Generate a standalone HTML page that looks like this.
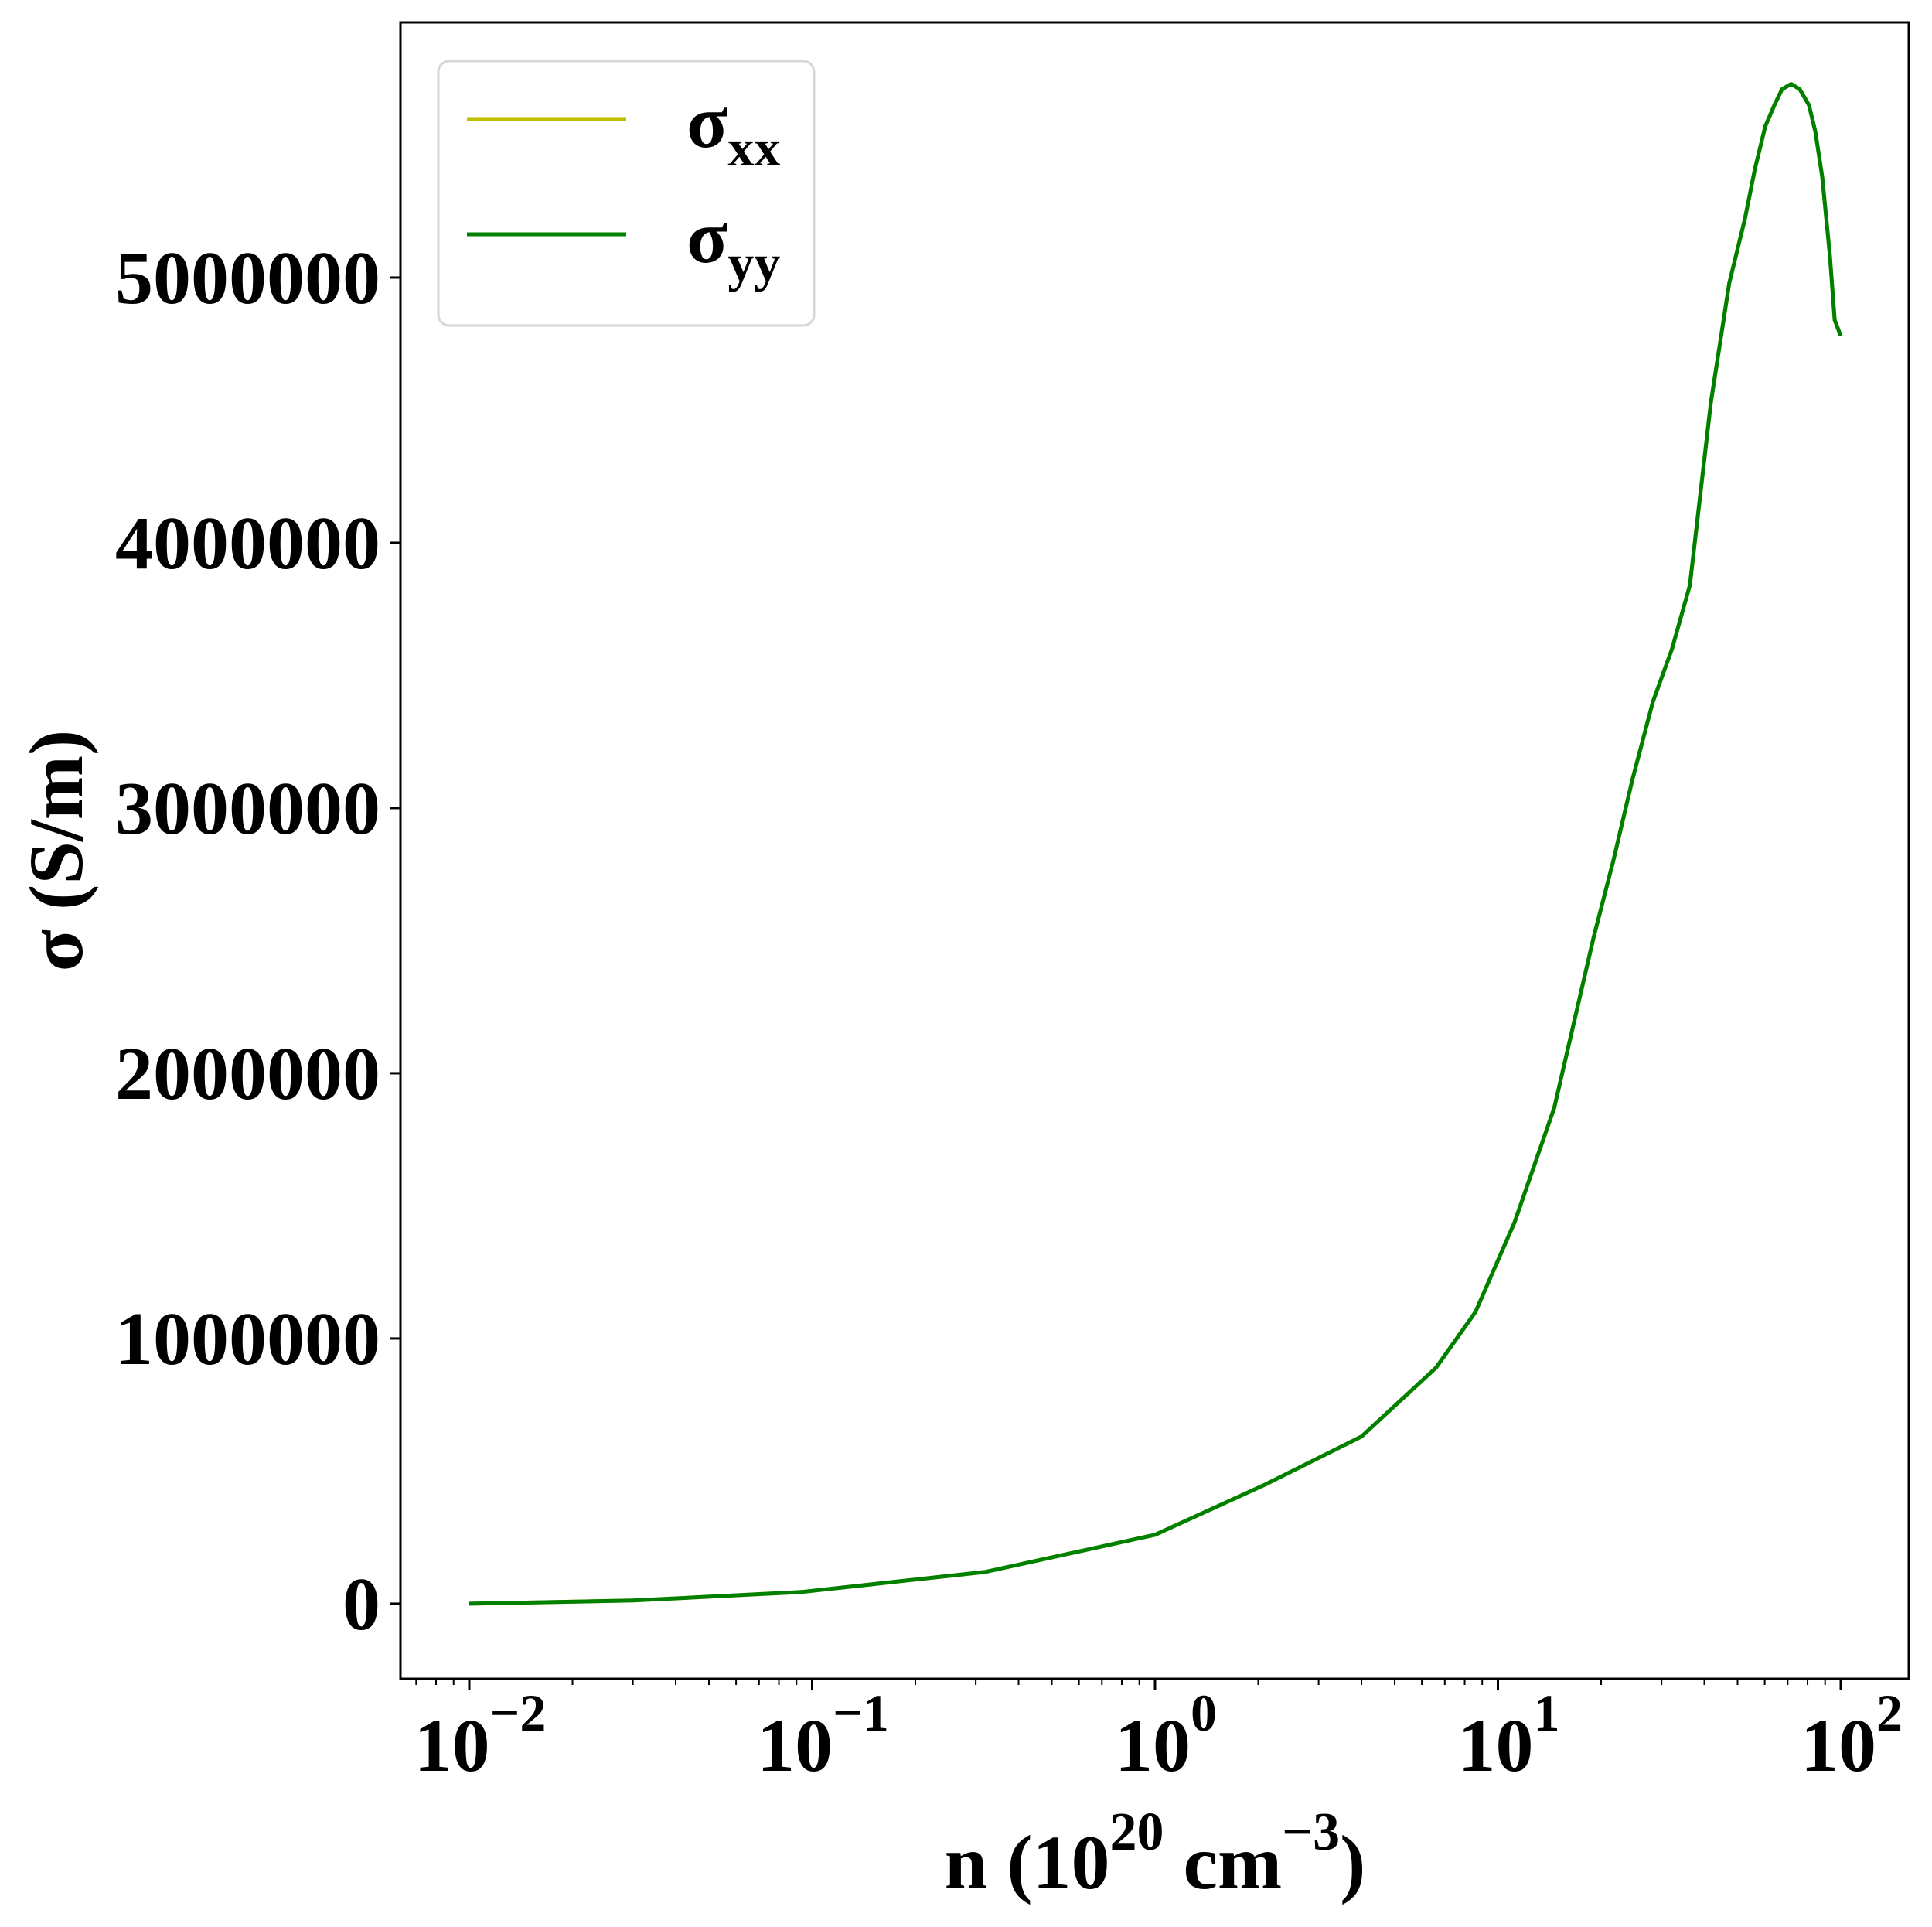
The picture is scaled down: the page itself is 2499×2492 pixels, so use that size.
<!DOCTYPE html>
<html><head><meta charset="utf-8"><style>
html,body{margin:0;padding:0;background:#fff}
svg{display:block}
text{font-family:"Liberation Serif","DejaVu Serif",serif;font-weight:bold;fill:#000}
</style></head><body>
<svg id="chart" width="2499" height="2492" viewBox="0 0 2499 2492" xmlns="http://www.w3.org/2000/svg">
<g id="plot"></g>
</svg>
<script>
const nValues = [0.01,0.03,0.093,0.32,1.0,2.1,4,6.6,8.6,11.2,14.6,19,21.7,24.7,28.3,32.2,36.3,41.8,47.3,52.5,56.2,60.2,64,67.4,71.7,75.9,80.8,84.3,88.3,93,96,100];
const sigmaYY = [0.0,0.012,0.044,0.12,0.26,0.45,0.63,0.89,1.10,1.44,1.87,2.51,2.80,3.11,3.40,3.60,3.84,4.53,4.98,5.22,5.41,5.57,5.65,5.71,5.73,5.71,5.65,5.55,5.38,5.08,4.84,4.78];
const sigmaXX = sigmaYY.slice();
const yTickValues = [0,1,2,3,4,5];
const yTickLabels = ["0","1000000","2000000","3000000","4000000","5000000"];
const xTickExps = [-2,-1,0,1,2];
const xTickSups = ["\u22122","\u22121","0","1","2"];

const L=518,R=2469,T=29,B=2171;
const xMinLog=-2.2007, xMaxLog=2.1984, yMin=-0.283, yMax=5.962;
const xs=n=>L+(Math.log10(n)-xMinLog)/(xMaxLog-xMinLog)*(R-L);
const ys=v=>B-(v-yMin)/(yMax-yMin)*(B-T);
const NS="http://www.w3.org/2000/svg";
const g=document.getElementById('plot');
function mk(tag,attrs,parent){const e=document.createElementNS(NS,tag);for(const k in attrs)e.setAttribute(k,attrs[k]);(parent||g).appendChild(e);return e;}

// series
function pathFor(vals){return vals.map((v,i)=>(i?'L':'M')+xs(nValues[i]).toFixed(1)+','+ys(v).toFixed(1)).join(' ');}
const pxx=mk('path',{d:pathFor(sigmaXX),fill:'none',stroke:'#bfbf00','stroke-width':5,'stroke-linejoin':'round'});


const pyy=mk('path',{d:pathFor(sigmaYY),fill:'none',stroke:'#008000','stroke-width':5,'stroke-linejoin':'round'});



// frame
const fr=mk('rect',{x:L,y:T,width:R-L,height:B-T,fill:'none',stroke:'#000','stroke-width':3});



// y ticks
yTickValues.forEach((v,i)=>{
  const y=ys(v);
  const t=mk('line',{x1:L-14,x2:L,y1:y,y2:y,stroke:'#000','stroke-width':3});
  
  
  const tx=mk('text',{x:L-26,y:y+33,'text-anchor':'end','font-size':98});
  tx.textContent=yTickLabels[i];
  
  
});

// x ticks
for(let e=-3;e<=2;e++){
  for(let m=1;m<10;m++){
    const n=m*Math.pow(10,e);
    const lg=Math.log10(n);
    if(lg<xMinLog||lg>xMaxLog)continue;
    const x=xs(n);
    const major=m===1;
    const t=mk('line',{x1:x,x2:x,y1:B,y2:B+(major?14:8),stroke:'#000','stroke-width':major?3:2});
    
    
  }
}
xTickExps.forEach((e,i)=>{
  const x=xs(Math.pow(10,e));
  const tx=mk('text',{x:x+14,y:2290,'text-anchor':'middle','font-size':98});
  tx.textContent='10';
  const s=mk('tspan',{dy:-52,'font-size':68},tx);
  s.textContent=xTickSups[i];
  
  
});

// axis titles
const xt=mk('text',{x:1494,y:2442,'text-anchor':'middle','font-size':100});
xt.innerHTML='n (10<tspan dy="-50" font-size="70">20</tspan><tspan dy="50"> cm</tspan><tspan dy="-50" font-size="70">\u22123</tspan><tspan dy="50">)</tspan>';


const yt=mk('text',{x:0,y:0,'text-anchor':'middle','font-size':100,transform:'translate(106,1100) rotate(-90)'});
yt.textContent='\u03c3 (S/m)';



// legend
const lg=mk('g',{});


mk('rect',{x:567,y:79,width:486,height:342,rx:14,fill:'#fff','fill-opacity':0.8,stroke:'#d6d6d6','stroke-width':3},lg);
const entries=[['#bfbf00','xx',154,'legend-entry-sigma-xx'],['#008000','yy',303,'legend-entry-sigma-yy']];
entries.forEach(en=>{
  const eg=mk('g',{},lg);
  
  
  mk('line',{x1:604,x2:810,y1:en[2],y2:en[2],stroke:en[0],'stroke-width':5},eg);
  const t=mk('text',{x:888,y:en[2]+36,'font-size':98},eg);
  t.innerHTML='\u03c3<tspan dy="24" font-size="68">'+en[1]+'</tspan>';
});
</script>
</body></html>
